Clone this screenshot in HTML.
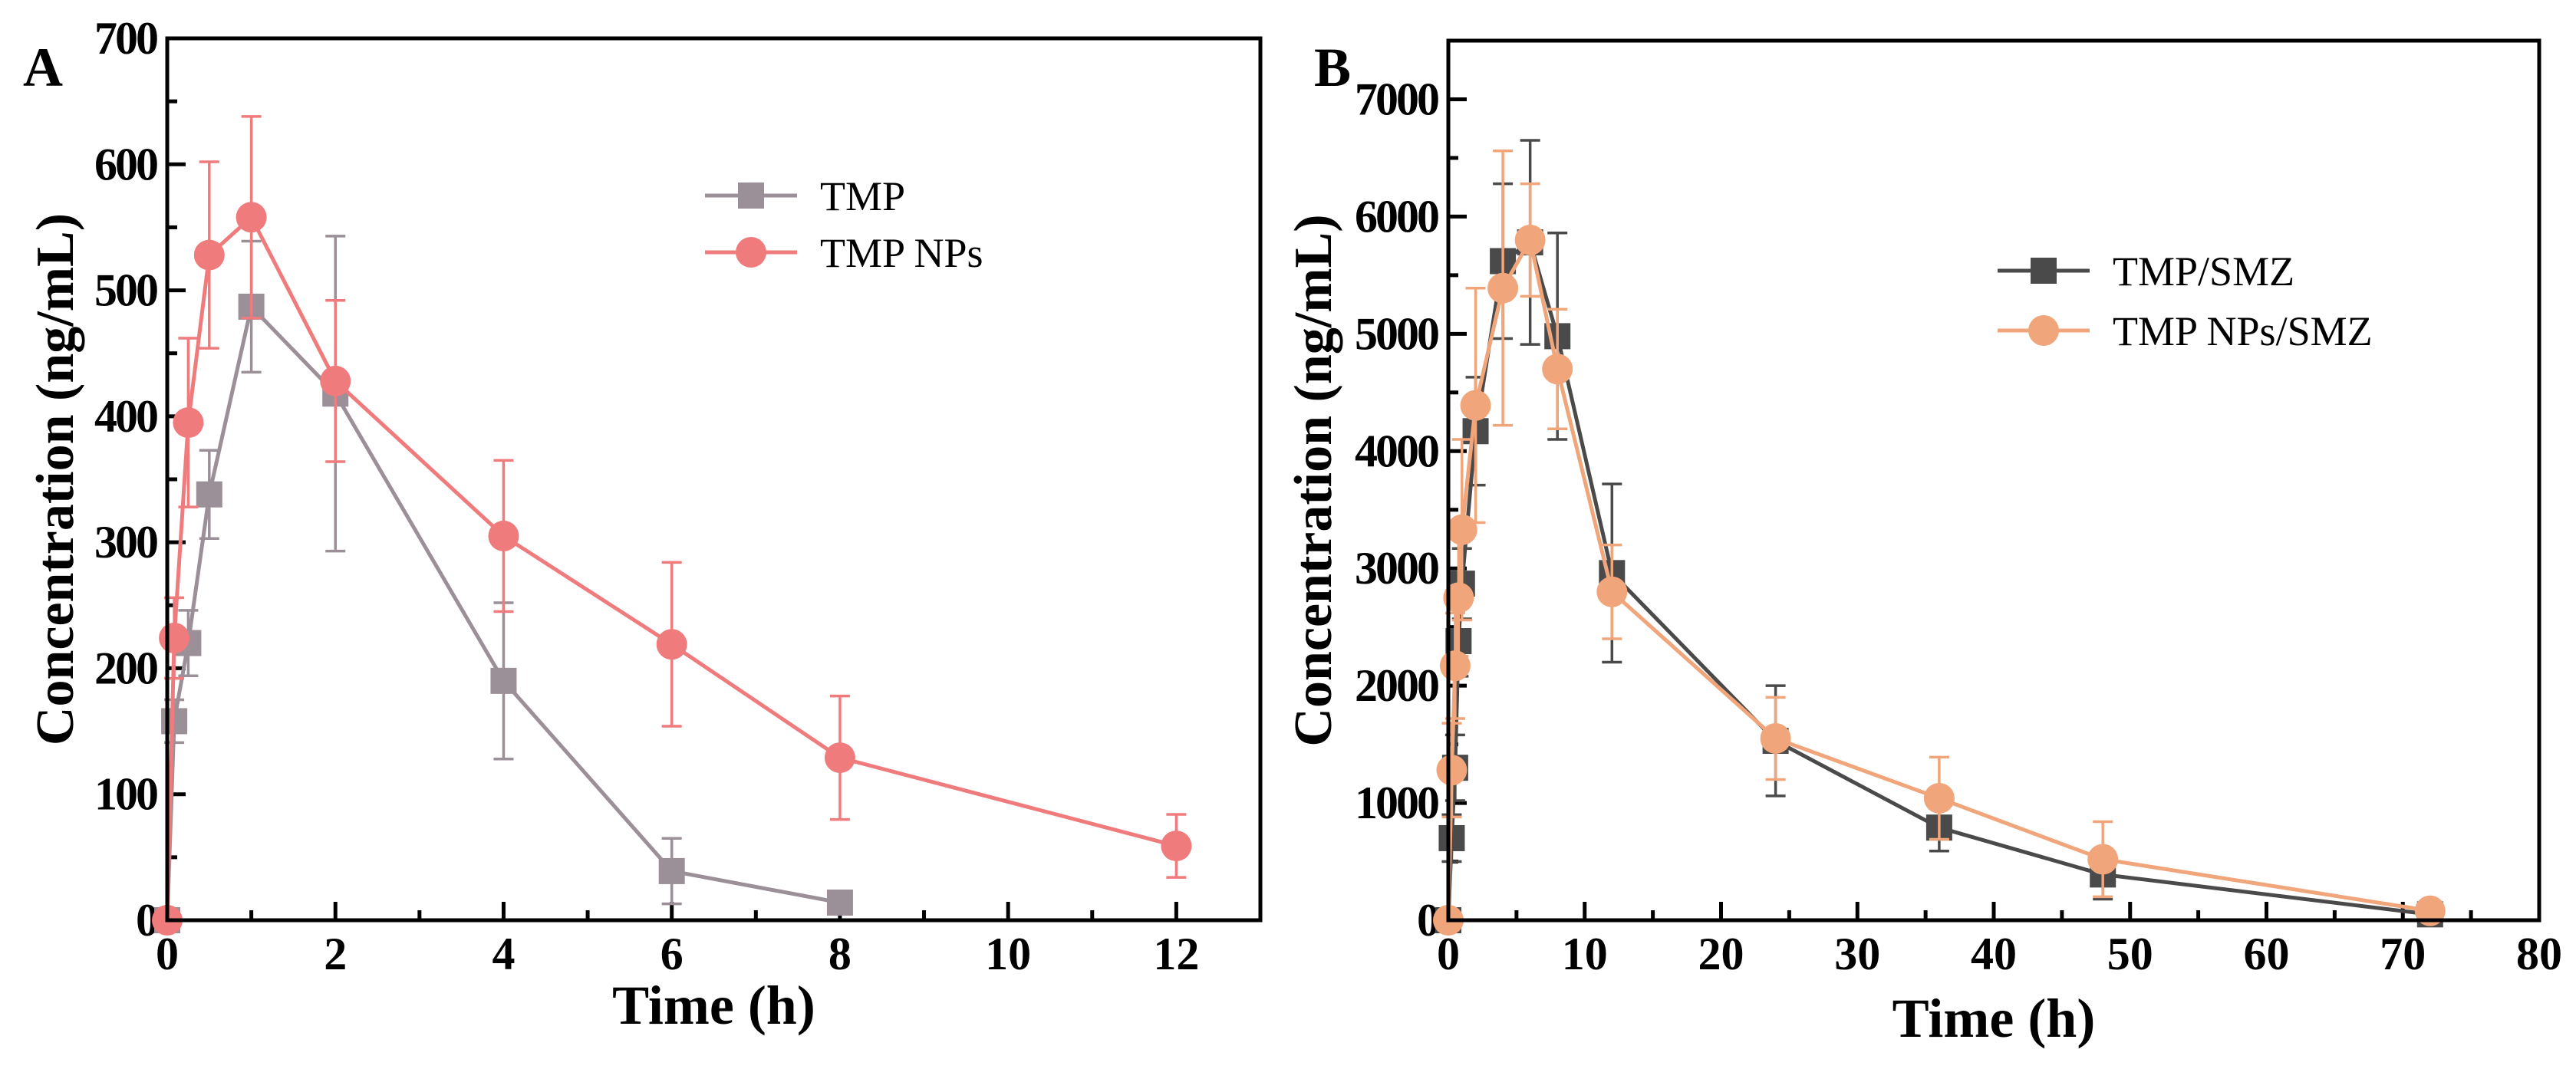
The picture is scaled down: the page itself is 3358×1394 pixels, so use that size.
<!DOCTYPE html>
<html><head><meta charset="utf-8"><style>
html,body{margin:0;padding:0;background:#fff;}
svg{display:block;font-family:"Liberation Serif",serif;}
</style></head><body>
<svg id="chart" width="3358" height="1394" viewBox="0 0 3358 1394" xmlns="http://www.w3.org/2000/svg"></svg>
<script>
// Panel A data
const timeA1 = [0, 0.083, 0.25, 0.5, 1, 2, 4, 6, 8];
const tmpVals = [0, 158, 220, 338, 487, 418, 190, 39, 14];
const tmpErr = [0, 17, 26, 35, 52, 125, 62, 26, 8];
const timeA2 = [0, 0.083, 0.25, 0.5, 1, 2, 4, 6, 8, 12];
const npVals = [0, 224, 395, 528, 558, 428, 305, 219, 129, 59];
const npErr = [0, 32, 67, 74, 80, 64, 60, 65, 49, 25];
const xTicksA = [0, 2, 4, 6, 8, 10, 12];
const yTicksA = [0, 100, 200, 300, 400, 500, 600, 700];
// Panel B data
const timeB = [0, 0.25, 0.5, 0.75, 1, 2, 4, 6, 8, 12, 24, 36, 48, 72];
const smzVals = [0, 700, 1300, 2380, 2870, 4170, 5620, 5780, 4980, 2960, 1530, 790, 390, 50];
const smzErr = [0, 200, 280, 300, 300, 460, 660, 870, 880, 760, 470, 200, 210, 30];
const npSmzVals = [0, 1280, 2170, 2750, 3330, 4390, 5390, 5800, 4700, 2800, 1550, 1040, 520, 80];
const npSmzErr = [0, 400, 450, 500, 770, 1000, 1170, 480, 510, 400, 350, 350, 320, 40];
const xTicksB = [0, 10, 20, 30, 40, 50, 60, 70, 80];
const yTicksB = [0, 1000, 2000, 3000, 4000, 5000, 6000, 7000];

const NS = "http://www.w3.org/2000/svg";
const svg = document.getElementById('chart');
function mk(tag, attrs, parent){
  const e = document.createElementNS(NS, tag);
  for (const k in attrs) e.setAttribute(k, attrs[k]);
  (parent||svg).appendChild(e);
  return e;
}

function panel(cfg){
  const g = mk('g', {});
  
  
  const {L,R,T,B,xMax,yMax} = cfg;
  const sx = v => L + v/xMax*(R-L);
  const sy = v => B - v/yMax*(B-T);
  cfg.xTicks.forEach((t,i)=>{
    const x = sx(t);
    const tk = mk('line',{x1:x,x2:x,y1:B,y2:B-24,stroke:'#000','stroke-width':5},g);
    
    
    const lb = mk('text',{x:x,y:B+64,'font-size':60,'font-weight':'bold','text-anchor':'middle'},g);
    lb.textContent = t;
    
    
    if(i<cfg.xTicks.length-1){
      const xm = sx(t + (cfg.xTicks[1]-cfg.xTicks[0])/2);
      const mt = mk('line',{x1:xm,x2:xm,y1:B,y2:B-13,stroke:'#000','stroke-width':5},g);
      
      
    }
  });
  cfg.yTicks.forEach((t,i)=>{
    const y = sy(t);
    const tk = mk('line',{x1:L,x2:L+24,y1:y,y2:y,stroke:'#000','stroke-width':5},g);
    
    
    const lb = mk('text',{x:L-14,y:y+20,'font-size':60,'font-weight':'bold','text-anchor':'end','letter-spacing':-3},g);
    lb.textContent = t;
    
    
    const step = cfg.yTicks[1]-cfg.yTicks[0];
    if(t+step/2 < yMax){
      const ym = sy(t+step/2);
      const mt = mk('line',{x1:L,x2:L+13,y1:ym,y2:ym,stroke:'#000','stroke-width':5},g);
      
      
    }
  });
  cfg.series.forEach(s=>{
    const sg = mk('g',{},g);
    
    
    s.vals.forEach((v,i)=>{
      const x = sx(s.t[i]);
      const e = s.err[i];
      if(e>0){
        const eb = mk('path',{d:`M${x},${sy(v+e)}V${sy(Math.max(0,v-e))}M${x-13},${sy(v+e)}H${x+13}M${x-13},${sy(Math.max(0,v-e))}H${x+13}`,stroke:s.color,'stroke-width':3.5,fill:'none'},sg);
        
        
      }
    });
    const pts = s.vals.map((v,i)=>`${sx(s.t[i])},${sy(v)}`).join(' ');
    const ln = mk('polyline',{points:pts,fill:'none',stroke:s.color,'stroke-width':5},sg);
    
    
    s.vals.forEach((v,i)=>{
      const x = sx(s.t[i]), y = sy(v);
      let m;
      if(s.marker==='square') m = mk('rect',{x:x-17,y:y-17,width:34,height:34,fill:s.color},sg);
      else m = mk('circle',{cx:x,cy:y,r:20,fill:s.color},sg);
      
      
    });
  });
  const fr = mk('rect',{x:L,y:T,width:R-L,height:B-T,fill:'none',stroke:'#000','stroke-width':5},g);
  
  
  const xt = mk('text',{x:(L+R)/2,y:cfg.xty,'font-size':72,'font-weight':'bold','text-anchor':'middle'},g);
  xt.textContent = 'Time (h)';
  
  
  const yt = mk('text',{x:0,y:0,'font-size':70,'font-weight':'bold','text-anchor':'middle',transform:`translate(${cfg.ytx},${(T+B)/2}) rotate(-90)`},g);
  yt.textContent = 'Concentration (ng/mL)';
  
  
  const pl = mk('text',{x:cfg.lx,y:cfg.ly,'font-size':72,'font-weight':'bold'},g);
  pl.textContent = cfg.label;
  
  
  cfg.series.forEach((s,i)=>{
    const y = cfg.legY[i];
    const lg = mk('g',{},g);
    
    
    mk('line',{x1:cfg.legX,x2:cfg.legX+120,y1:y,y2:y,stroke:s.color,'stroke-width':5},lg);
    if(s.marker==='square') mk('rect',{x:cfg.legX+43,y:y-17,width:34,height:34,fill:s.color},lg);
    else mk('circle',{cx:cfg.legX+60,cy:y,r:20,fill:s.color},lg);
    const t = mk('text',{x:cfg.legX+150,y:y+19,'font-size':54},lg);
    t.textContent = s.label;
  });
}

panel({name:'panel-a',L:218,R:1643,T:50,B:1200,xMax:13,yMax:700,xTicks:xTicksA,yTicks:yTicksA,
  ytx:95,lx:30,ly:112,label:'A',legX:919,legY:[255,329],xty:1335,
  series:[
    {name:'series-tmp',label:'TMP',t:timeA1,vals:tmpVals,err:tmpErr,color:'#9b8f98',marker:'square'},
    {name:'series-tmp-nps',label:'TMP NPs',t:timeA2,vals:npVals,err:npErr,color:'#ef7b7d',marker:'circle'}
  ]});
panel({name:'panel-b',L:1888,R:3310,T:53,B:1200,xMax:80,yMax:7500,xTicks:xTicksB,yTicks:yTicksB,
  ytx:1735,lx:1713,ly:112,label:'B',legX:2604,legY:[353,431],xty:1352,
  series:[
    {name:'series-tmp-smz',label:'TMP/SMZ',t:timeB,vals:smzVals,err:smzErr,color:'#4a4a4a',marker:'square'},
    {name:'series-tmp-nps-smz',label:'TMP NPs/SMZ',t:timeB,vals:npSmzVals,err:npSmzErr,color:'#f0a57a',marker:'circle'}
  ]});
</script>
</body></html>
